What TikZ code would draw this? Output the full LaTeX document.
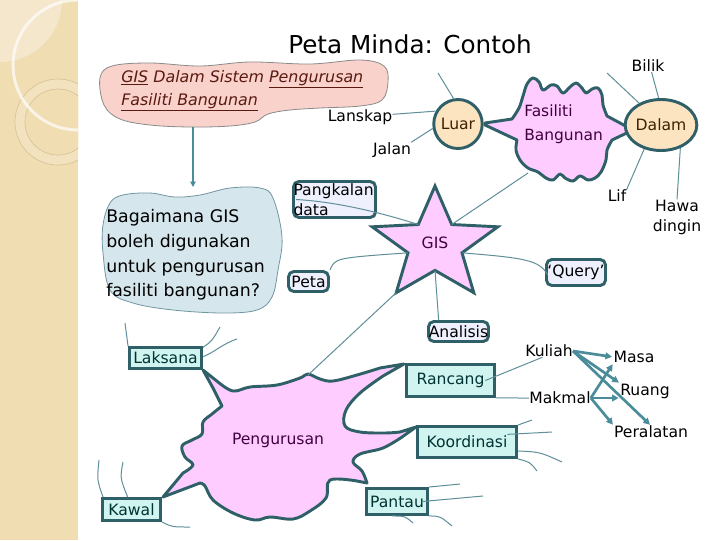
\documentclass[tikz,border=0pt]{standalone}
\usepackage{fontspec}
\setmainfont{DejaVu Sans}
\usetikzlibrary{arrows.meta,shapes.geometric}
\definecolor{strip}{HTML}{F0DDB2}
\definecolor{striplight}{HTML}{F4E7CC}
\definecolor{ringfill}{HTML}{F3E2BE}
\definecolor{ringline}{HTML}{D8C39A}
\definecolor{dteal}{HTML}{2F6068}
\definecolor{tline}{HTML}{5F8F9A}
\definecolor{arrc}{HTML}{4A8C9A}
\definecolor{cyanfill}{HTML}{D0F4EF}
\definecolor{pinkfill}{HTML}{FFCCFF}
\definecolor{peach}{HTML}{FDE4C1}
\definecolor{lav}{HTML}{EEF0FD}
\definecolor{cloudblue}{HTML}{D5E7ED}
\definecolor{cloudblueline}{HTML}{7096A2}
\definecolor{cloudpink}{HTML}{F9D3CB}
\definecolor{cloudpinkline}{HTML}{8A8A8A}
\definecolor{cloudtxt}{HTML}{5A1A10}
\definecolor{purp}{HTML}{400040}
\definecolor{boxtxt}{HTML}{003333}
\definecolor{luartxt}{HTML}{3F2000}
\begin{document}
\begin{tikzpicture}[x=0.75pt,y=-0.75pt,
  lbl/.style={font=\fontsize{11.7}{15}\selectfont, inner sep=0pt},
  sqbox/.style={lbl, draw=dteal, line width=2.2pt, fill=cyanfill, text=boxtxt},
  rbox/.style={lbl, draw=dteal, line width=2.2pt, fill=lav, rounded corners=4pt, text=black},
  circ/.style={lbl, ellipse, draw=dteal, line width=2.2pt, fill=peach, text=luartxt},
  blob/.style={draw=dteal, line width=2.2pt, fill=pinkfill, line join=round},
  twig/.style={draw=tline, line width=0.75pt},
  arr/.style={draw=arrc, line width=2pt, -{Triangle[length=5pt,width=5pt]}, shorten >=1pt},
  varr/.style={draw=arrc, line width=1.5pt, -{Triangle[length=4pt,width=4pt]}}]
\useasboundingbox (0,0) rectangle (720,540);
\fill[white] (0,0) rectangle (720,540);
% left decorative strip
\fill[strip] (0,0) rectangle (78,540);
\begin{scope}
  \clip (0,0) rectangle (78,540);
  \fill[striplight] (0,0) circle [radius=62];
  \draw[ringline, line width=0.5pt, fill=ringfill] (58,122) circle [radius=43];
  \draw[ringline, line width=0.5pt, fill=strip] (58,122) circle [radius=33];
  \draw[white, opacity=0.7, line width=2.2pt] (78,65) circle [radius=65];
\end{scope}

% title
\node[inner sep=0pt, font=\fontsize{18.5}{22}\selectfont] (title) at (410,44) {Peta Minda: Contoh};

% pink cloud
\draw[draw=cloudpinkline, fill=cloudpink, line width=0.6pt] plot[smooth cycle, tension=0.6] coordinates {(100,78) (112,66) (150,63) (200,66) (250,62) (310,64) (360,60) (384,66) (388,82) (382,100) (360,106) (320,108) (290,110) (268,114) (255,122) (230,126) (190,127) (150,125) (120,119) (104,105)};
\node[align=left, anchor=west, inner sep=0pt, text=cloudtxt, font=\itshape\fontsize{11.9}{17.3}\selectfont] (topic) at (121,91) {\underline{GIS} Dalam Sistem \underline{Pengurusan}\\\underline{Fasiliti Bangunan}};

% blue cloud
\draw[draw=cloudblueline, fill=cloudblue, line width=0.6pt] plot[smooth cycle, tension=0.6] coordinates {(103,225) (110,203) (123,195) (150,193) (175,197) (200,195) (230,188) (260,188) (273,198) (282,237) (278,270) (272,297) (257,310) (223,313) (173,310) (133,303) (110,290) (103,253)};
\node[align=left, anchor=west, inner sep=0pt, font=\fontsize{13}{18.4}\selectfont] (quest) at (106,255) {Bagaimana GIS\\boleh digunakan\\untuk pengurusan\\fasiliti bangunan?};

\coordinate (tb) at (193,127);
\coordinate (qt) at (193,187);
\draw[varr] (tb) -- (qt);

% Fasiliti Bangunan blob
\draw[blob] (485,123) -- (512,119)
  -- plot[smooth, tension=0.6] coordinates {(512,119) (519,108) (523,96) (527,84) (533,78) (539,82) (543,90) (551,85) (557,86) (563,93) (570,87) (576,83) (582,88) (586,93) (592,89) (598,88) (602,95) (603,105) (607,116)}
  -- (633,130) -- (612,140)
  -- plot[smooth, tension=0.6] coordinates {(612,140) (607,150) (606,160) (601,172) (595,178) (588,180) (580,176) (573,181) (565,178) (560,174) (553,180) (546,178) (538,172) (528,168) (520,160) (516,150) (517,140)}
  -- (485,125) -- cycle;
\node[align=left, anchor=west, inner sep=0pt, text=purp, font=\fontsize{11.6}{18}\selectfont] (fb) at (524,124) {Fasiliti\\Bangunan};
\coordinate (fbb) at (528,173);

% Luar / Dalam
\node[circ, minimum width=35.25pt, minimum height=36.75pt] (luar) at (458,124) {Luar};
\node[circ, minimum width=44.25pt, minimum height=38.25pt] (dalam) at (661,125) {Dalam};

\node[lbl] (lanskap) at (360,117) {Lanskap};
\node[lbl] (jalan) at (392,150) {Jalan};
\node[lbl] (bilik) at (648,66) {Bilik};
\node[lbl] (lif) at (617,196) {Lif};
\node[lbl, align=center] (hawa) at (677,217) {Hawa\\dingin};
\coordinate (luarfree) at (438,73);
\coordinate (dalamfree) at (607,73);
\draw[twig] (luar.150) -- ([yshift=2pt]lanskap.east);
\draw[twig] (luar.190) -- (jalan.north east);
\draw[twig] (luar.100) -- (luarfree);
\draw[twig] (dalam.95) -- (bilik.300);
\draw[twig] (dalam.135) -- (dalamfree);
\draw[twig] (dalam.235) -- (lif.north east);
\draw[twig] (dalam.310) -- (hawa.north);

% Pengurusan blob
\draw[blob] (203,370) -- (218,382)
  -- plot[smooth, tension=0.6] coordinates {(218,382) (233,391) (250,387) (277,385) (300,378) (308,374) (320,379) (333,381) (357,375) (380,368)}
  -- (404,364) -- (383,376)
  -- plot[smooth, tension=0.6] coordinates {(383,376) (360,393) (346,410) (345,426) (360,432) (385,433) (400,432)}
  -- (416,427) -- (402,437)
  -- plot[smooth, tension=0.6] coordinates {(402,437) (383,448) (360,454) (353,462) (362,471) (367,483)}
  -- (357,481)
  -- plot[smooth, tension=0.6] coordinates {(357,481) (330,480) (326,498) (310,511) (293,519) (270,517) (255,520) (233,513) (213,500) (205,486) (200,483)}
  -- (163,497) -- (183,473)
  -- plot[smooth, tension=0.6] coordinates {(183,473) (193,465) (185,457) (182,446) (192,440) (202,434) (203,422) (212,414) (222,406)}
  -- (213,388) -- cycle;
\node[lbl, text=purp] (peng) at (278,440) {Pengurusan};
\coordinate (pgtop) at (308,375);

% GIS star
\coordinate (s90) at (435,186);
\coordinate (s54) at (451.7,224.5);
\coordinate (s18) at (497.8,226.8);
\coordinate (s342) at (462,252.8);
\coordinate (s306) at (473.8,292.7);
\coordinate (s270) at (435,270.4);
\coordinate (s234) at (396.2,292.7);
\coordinate (s198) at (408,252.8);
\coordinate (s162) at (372.2,226.8);
\coordinate (s126) at (418.3,224.5);
\draw[blob, line join=miter] (s90) -- (s54) -- (s18) -- (s342) -- (s306) -- (s270) -- (s234) -- (s198) -- (s162) -- (s126) -- cycle;
\node[lbl, text=purp] (gis) at (435,243) {GIS};

% boxes
\node[rbox, minimum width=61.5pt, minimum height=27pt, text width=61.5pt, align=left] (pk) at (334.5,199.5) {Pangkalan\\data};
\node[rbox, minimum width=30pt, minimum height=15pt] (peta) at (308.5,281.5) {Peta};
\node[rbox, minimum width=44.25pt, minimum height=19.5pt] (query) at (576,272.5) {‘Query’};
\node[rbox, minimum width=45pt, minimum height=15pt] (analisis) at (458.5,331.5) {Analisis};

\node[sqbox, minimum width=54pt, minimum height=15.75pt] (laksana) at (165.5,358) {Laksana};
\node[sqbox, minimum width=66pt, minimum height=24pt] (rancang) at (450.5,380.5) {Rancang};
\node[sqbox, minimum width=74.25pt, minimum height=23.25pt] (koord) at (467,442) {Koordinasi};
\node[sqbox, minimum width=45.75pt, minimum height=19.5pt] (pantau) at (397,501.5) {Pantau};
\node[sqbox, minimum width=43.5pt, minimum height=16.5pt] (kawal) at (131.5,509.5) {Kawal};

% star connectors
\draw[twig] (s54) -- (fbb);
\draw[twig] (s126) .. controls (385,214) and (340,202) .. ([xshift=3pt]pk.west);
\draw[twig] (peta.north east) .. controls (335,258) .. (s198);
\draw[twig] (s342) .. controls (525,258) and (540,260) .. ([xshift=2pt,yshift=-2pt]query.west);
\draw[twig] (s270) -- (analisis.150);
\draw[twig] (s234) -- (pgtop);

% Kuliah / Makmal
\node[lbl] (kuliah) at (549,351) {Kuliah};
\node[lbl] (makmal) at (560,398) {Makmal};
\node[lbl] (masa) at (634,357) {Masa};
\node[lbl] (ruang) at (645,391) {Ruang};
\node[lbl] (peralatan) at (651,432) {Peralatan};
\draw[twig] ([xshift=-8pt]rancang.east) -- ([xshift=-5pt]kuliah.south);
\draw[twig] (rancang.south east) -- (makmal.west);
\draw[arr] (kuliah.east) -- (masa.west);
\draw[arr] (kuliah.east) -- (ruang.north west);
\draw[arr] (kuliah.east) -- (peralatan.north);
\draw[arr] (makmal.east) -- (masa.south west);
\draw[arr] (makmal.east) -- (ruang.west |- makmal.east);
\draw[arr] (makmal.east) -- (peralatan.north west);

% free twigs
\coordinate (lk1) at (125,323);
\coordinate (lk2) at (220,327);
\coordinate (lk3) at (237,339);
\draw[twig] (laksana.north west) .. controls (126,335) .. (lk1);
\draw[twig] ([yshift=-1pt]laksana.north east) .. controls (212,341) .. (lk2);
\draw[twig] ([yshift=-8pt]laksana.north east) .. controls (215,352) and (222,344) .. (lk3);
\coordinate (kw1) at (99,460);
\coordinate (kw2) at (123,462);
\coordinate (kw3) at (190,527);
\draw[twig] ([xshift=1.5pt]kawal.north west) .. controls (97,480) .. (kw1);
\draw[twig] ([xshift=20pt]kawal.north west) .. controls (120,478) .. (kw2);
\draw[twig] (kawal.south east) .. controls (172,527) .. (kw3);
\coordinate (kd1) at (532,420);
\coordinate (kd2) at (552,432);
\coordinate (kd3) at (562,462);
\coordinate (kd4) at (537,471);
\draw[twig] (koord.north east) -- (kd1);
\draw[twig] ([xshift=-8pt,yshift=-7pt]koord.north east) -- (kd2);
\draw[twig] ([yshift=6pt]koord.south east) .. controls (540,452) .. (kd3);
\draw[twig] (koord.south east) .. controls (530,462) .. (kd4);
\coordinate (pt1) at (460,484);
\coordinate (pt2) at (483,496);
\coordinate (pt3) at (452,526);
\coordinate (pt4) at (413,523);
\draw[twig] (pantau.north east) -- (pt1);
\draw[twig] ([xshift=-5pt]pantau.east) -- (pt2);
\draw[twig] (pantau.south east) .. controls (440,516) .. (pt3);
\draw[twig] ([xshift=-4pt]pantau.south) .. controls (405,516) .. (pt4);
\end{tikzpicture}
\end{document}
